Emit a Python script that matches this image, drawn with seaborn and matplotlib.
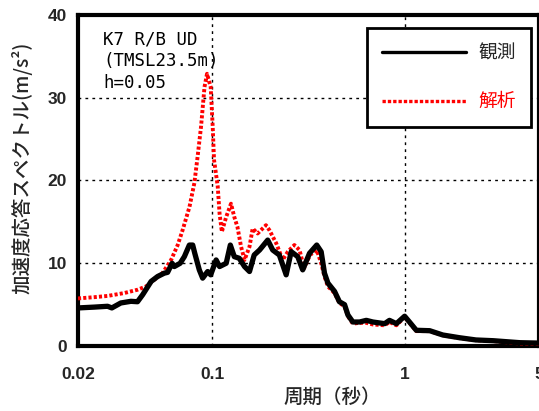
import numpy as np
import pandas as pd
import seaborn as sns
import matplotlib
matplotlib.use("Agg")
import matplotlib.pyplot as plt
from matplotlib.lines import Line2D
from matplotlib.ticker import FixedLocator, NullFormatter

# Observed acceleration response spectrum (period [s], Sa [m/s^2])
obs_period = [0.020, 0.0243, 0.0285, 0.030, 0.0334, 0.0377, 0.0408, 0.0434, 0.048, 0.0519,
              0.0562, 0.0585, 0.0617, 0.0634, 0.068, 0.0715, 0.0759, 0.079, 0.081, 0.0855,
              0.089, 0.0945, 0.098, 0.1046, 0.109, 0.118, 0.124, 0.130, 0.138, 0.147,
              0.156, 0.165, 0.176, 0.194, 0.206, 0.223, 0.242, 0.257, 0.278, 0.295,
              0.320, 0.349, 0.368, 0.383, 0.399, 0.432, 0.458, 0.487, 0.507, 0.538,
              0.583, 0.632, 0.684, 0.787, 0.834, 0.906, 1.00, 1.06, 1.15, 1.35,
              1.58, 1.93, 2.35, 2.89, 3.39, 3.98, 5.00]
obs_sa = [4.6, 4.7, 4.8, 4.6, 5.2, 5.4, 5.35, 6.2, 7.8, 8.4,
          8.8, 8.9, 10.0, 9.6, 10.0, 10.8, 12.2, 12.2, 11.2, 9.2,
          8.2, 9.0, 8.6, 10.4, 9.6, 10.0, 12.2, 10.8, 10.6, 9.6,
          9.0, 11.0, 11.6, 12.8, 11.6, 11.0, 8.6, 11.4, 10.8, 9.2,
          11.2, 12.2, 11.4, 8.8, 7.6, 6.6, 5.35, 5.0, 3.75, 2.9,
          2.9, 3.1, 2.9, 2.7, 3.1, 2.7, 3.6, 2.9, 1.9, 1.85,
          1.33, 1.0, 0.73, 0.64, 0.52, 0.4, 0.35]

# Analysis acceleration response spectrum
sim_period = [0.020, 0.0243, 0.0285, 0.0348, 0.0408, 0.0452, 0.0498, 0.055, 0.061, 0.066,
              0.070, 0.076, 0.0806, 0.0838, 0.0873, 0.091, 0.0938, 0.098, 0.1004, 0.102,
              0.1066, 0.109, 0.112, 0.118, 0.125, 0.130, 0.135, 0.141, 0.147, 0.156,
              0.162, 0.172, 0.190, 0.198, 0.215, 0.232, 0.247, 0.267, 0.284, 0.300,
              0.322, 0.349, 0.368, 0.383, 0.399, 0.432, 0.458, 0.487, 0.507, 0.538,
              0.583, 0.632, 0.684, 0.787, 0.834, 0.906, 1.00, 1.06, 1.15, 1.35,
              1.58, 1.93, 2.35, 2.89, 3.39, 3.98, 5.00]
sim_sa = [5.75, 5.9, 6.05, 6.4, 6.8, 7.2, 8.0, 8.8, 10.4, 12.2,
          14.0, 16.8, 19.7, 22.9, 26.5, 31.3, 32.9, 31.3, 26.5, 22.5,
          19.3, 16.0, 13.8, 15.6, 17.2, 15.6, 14.4, 12.0, 10.4, 12.0,
          14.2, 13.6, 14.6, 14.0, 12.4, 10.4, 11.4, 12.2, 11.6, 9.4,
          11.0, 11.6, 10.0, 8.4, 7.2, 6.4, 5.2, 4.8, 3.6, 2.7,
          2.8, 2.8, 2.6, 2.5, 2.9, 2.5, 3.5, 2.8, 1.8, 1.8,
          1.3, 0.95, 0.7, 0.6, 0.45, 0.3, 0.25]

series_labels = ["観測", "解析"]
x_ticks = [0.02, 0.1, 1, 5]
x_tick_labels = ["0.02", "0.1", "1", "5"]
y_ticks = [0, 10, 20, 30, 40]
note_lines = ["K7 R/B UD", "(TMSL23.5m)", "h=0.05"]

obs_df = pd.DataFrame({"period": obs_period, "sa": obs_sa})
sim_df = pd.DataFrame({"period": sim_period, "sa": sim_sa})

sns.set_theme(style="white")
plt.rcParams["font.family"] = ["Noto Sans CJK JP", "DejaVu Sans"]

W, H = 539, 411
fig = plt.figure(figsize=(W / 100, H / 100), dpi=100)
ax = fig.add_axes([78 / W, 1 - 346 / H, (539 - 78) / W, (346 - 15) / H])

sns.lineplot(data=sim_df, x="period", y="sa", ax=ax, color="#ff0000", linewidth=2.8,
             sort=False, estimator=None, zorder=3)
sns.lineplot(data=obs_df, x="period", y="sa", ax=ax, color="black", linewidth=3.8,
             sort=False, estimator=None, zorder=4)
ax.lines[0].set_dashes((0.8, 0.55))

ax.set_xscale("log")
ax.set_xlim(0.02, 5)
ax.set_ylim(0, 40)

# grid: dotted lines at decades and every 10 m/s^2
for yv in [10, 20, 30]:
    ax.axhline(yv, color="black", linewidth=1.0, linestyle=(0, (2, 3)), zorder=1)
for xv in [0.1, 1]:
    ax.axvline(xv, color="black", linewidth=1.0, linestyle=(0, (2, 3)), zorder=1)

ax.xaxis.set_major_locator(FixedLocator(x_ticks))
ax.set_xticklabels(x_tick_labels)
minor_x = [m * d for d in (0.01, 0.1, 1) for m in range(2, 10) if 0.02 < m * d < 5 and m * d not in x_ticks]
ax.xaxis.set_minor_locator(FixedLocator(minor_x))
ax.xaxis.set_minor_formatter(NullFormatter())
ax.yaxis.set_major_locator(FixedLocator(y_ticks))
ax.yaxis.set_minor_locator(FixedLocator(np.arange(2.5, 40, 5)))

tick_font = dict(family="Liberation Sans", weight="bold", size=12.5)
for lab in ax.get_xticklabels() + ax.get_yticklabels():
    lab.set_fontproperties(matplotlib.font_manager.FontProperties(**tick_font))

ax.tick_params(which="major", direction="in", length=13, width=1.6, color="black", pad=10)
ax.tick_params(which="minor", direction="in", length=8, width=1.4, color="black")
ax.tick_params(axis="y", which="major", pad=8)
ax.tick_params(axis="x", which="major", pad=15)

for sp in ax.spines.values():
    sp.set_linewidth(3)
    sp.set_color("black")

ax.set_xlabel("周期（秒）", fontsize=14, fontweight="medium")
ax.xaxis.set_label_coords((332 - 78) / (539 - 78), -(397 - 346) / (346 - 15), transform=ax.transAxes)
ax.xaxis.label.set_va("center")
ax.set_ylabel("加速度応答スペクトル(m/s²)", fontsize=14, fontweight="medium")
ax.yaxis.set_label_coords(-(78 - 22) / (539 - 78), (346 - 168) / (346 - 15), transform=ax.transAxes)
ax.yaxis.label.set_va("center")

# station annotation
for i, line in enumerate(note_lines):
    fig.text(103 / W, 1 - (44 + i * 22) / H, line, family="DejaVu Sans Mono",
             fontsize=12.5, va="baseline", ha="left", color="black")

handles = [Line2D([], [], color="black", linewidth=2.4),
           Line2D([], [], color="#ff0000", linewidth=2.4, linestyle=(0, (1.0, 0.6)))]
leg = ax.legend(handles, series_labels, loc="upper right",
                bbox_to_anchor=(531 / W, 1 - 28 / H), bbox_transform=fig.transFigure,
                frameon=True, fancybox=False, edgecolor="black", framealpha=1,
                fontsize=13.5, handlelength=4.5, handletextpad=0.65, borderpad=0.8,
                labelspacing=1.45, borderaxespad=0)
leg.get_frame().set_linewidth(2)
leg.get_texts()[1].set_color("#ff0000")

fig.savefig("out.png", dpi=100)
